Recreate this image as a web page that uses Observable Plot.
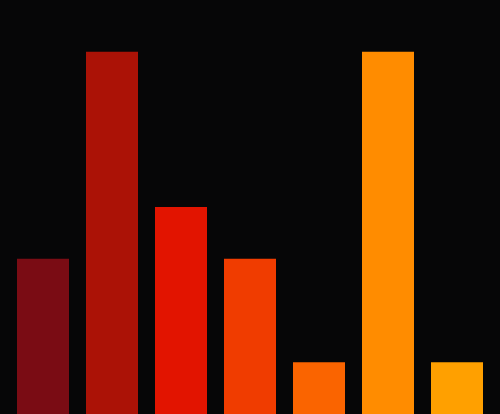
<!DOCTYPE html>
<html><head><meta charset="utf-8">
<script src="https://cdn.jsdelivr.net/npm/d3@7"></script>
<script src="https://cdn.jsdelivr.net/npm/@observablehq/plot@0.6"></script>
<style>html,body{margin:0;padding:0;background:#060607;overflow:hidden}</style>
</head><body><div id="chart"></div>
<script>
const categories = ["A","B","C","D","E","F","G"];
const values = [3, 7, 4, 3, 1, 7, 1];
const colors = ["#7a0c14","#ab1206","#e21400","#f03c00","#fa6400","#ff8c00","#ffa000"];
const data = categories.map((c, i) => ({c, v: values[i]}));
const chart = Plot.plot({
  width: 500, height: 414,
  margin: 0,
  style: {background: "#060607"},
  x: {domain: categories, padding: 0.246, axis: null},
  y: {domain: [0, 8], axis: null},
  color: {domain: categories, range: colors},
  marks: [Plot.barY(data, {x: "c", y: "v", fill: "c"})]
});
document.getElementById("chart").appendChild(chart);
</script></body></html>
